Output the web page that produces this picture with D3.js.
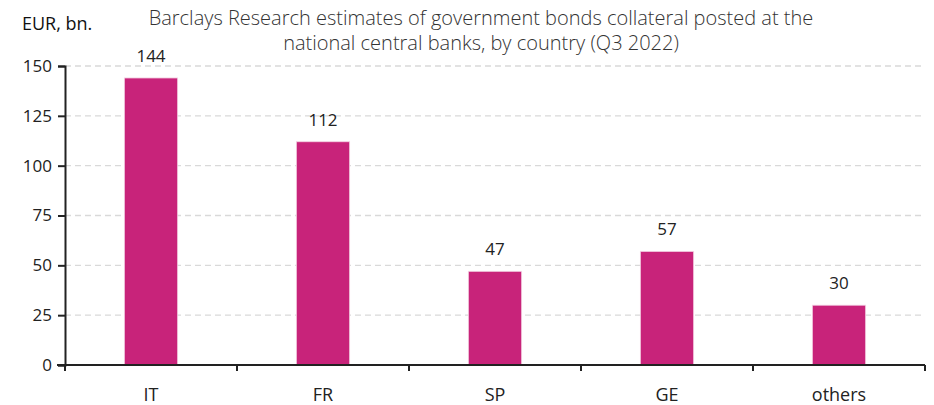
<!DOCTYPE html>
<html>
<head>
<meta charset="utf-8">
<script src="https://cdn.jsdelivr.net/npm/d3@7"></script>
<style>
  html, body { margin: 0; padding: 0; background: #fff; }
  svg { display: block; font-family: "Open Sans", "Noto Sans", sans-serif; }
</style>
</head>
<body>
<svg id="chart" width="934" height="405"></svg>
<script>
// Government bond collateral posted at national central banks, Q3 2022 (EUR bn)
const countries = ["IT", "FR", "SP", "GE", "others"];
const collateral = [144, 112, 47, 57, 30];
const yTicks = [0, 25, 50, 75, 100, 125, 150];
const titleLines = [
  "Barclays Research estimates of government bonds collateral posted at the",
  "national central banks, by country (Q3 2022)"
];
const unitLabel = "EUR, bn.";

const svg = d3.select("#chart");
const margin = { left: 65, right: 9, top: 66, bottom: 40 };
const W = 934, H = 405;
const innerW = W - margin.left - margin.right;
const innerH = H - margin.top - margin.bottom;

const x = d3.scaleBand().domain(countries).range([0, innerW]).paddingInner(0.69).paddingOuter(0.345);
const y = d3.scaleLinear().domain([0, 150]).range([innerH, 0]);

const g = svg.append("g").attr("transform", `translate(${margin.left},${margin.top})`);

// dashed horizontal gridlines
g.append("g")
  .selectAll("line")
  .data(yTicks.filter(d => d > 0))
  .join("line")
  .attr("x1", 0).attr("x2", innerW)
  .attr("y1", d => y(d)).attr("y2", d => y(d))
  .attr("stroke", "#d9d9d9")
  .attr("stroke-width", 1.3)
  .attr("stroke-dasharray", "6,4");

// bars
g.append("g")
  .selectAll("rect")
  .data(countries)
  .join("rect")
  .attr("x", d => x(d))
  .attr("width", x.bandwidth())
  .attr("y", (d, i) => y(collateral[i]))
  .attr("height", (d, i) => y(0) - y(collateral[i]))
  .attr("fill", "#c8237a")
  .attr("stroke", "#f3d4e4")
  .attr("stroke-width", 0.8);

// value labels
g.append("g")
  .selectAll("text")
  .data(countries)
  .join("text")
  .attr("x", d => x(d) + x.bandwidth() / 2)
  .attr("y", (d, i) => y(collateral[i]) - 16)
  .attr("text-anchor", "middle")
  .attr("font-size", 17)
  .attr("fill", "#222")
  .text((d, i) => collateral[i]);

// y axis
const yAxis = g.append("g")
  .call(d3.axisLeft(y).tickValues(yTicks).tickSize(7).tickPadding(6));
yAxis.select(".domain").attr("stroke", "#222").attr("stroke-width", 2);
yAxis.selectAll(".tick line").attr("stroke", "#222").attr("stroke-width", 2);
yAxis.selectAll(".tick text").attr("font-size", 17).attr("fill", "#222")
  .attr("font-family", "'Open Sans', 'Noto Sans', sans-serif");

// x axis with ticks at category boundaries
const xAxisG = g.append("g").attr("transform", `translate(0,${innerH})`);
xAxisG.append("line")
  .attr("x1", -8).attr("x2", innerW)
  .attr("stroke", "#222").attr("stroke-width", 2);
const step = x.step();
xAxisG.selectAll("line.sep")
  .data(d3.range(countries.length + 1))
  .join("line")
  .attr("class", "sep")
  .attr("x1", i => i * step).attr("x2", i => i * step)
  .attr("y1", 0).attr("y2", 6)
  .attr("stroke", "#222").attr("stroke-width", 2);
xAxisG.selectAll("text")
  .data(countries)
  .join("text")
  .attr("x", d => x(d) + x.bandwidth() / 2)
  .attr("y", 36)
  .attr("text-anchor", "middle")
  .attr("font-size", 18)
  .attr("fill", "#222")
  .text(d => d);

// unit label
svg.append("text")
  .attr("x", 22).attr("y", 30)
  .attr("font-size", 18)
  .attr("fill", "#111")
  .text(unitLabel);

// title
svg.append("g")
  .selectAll("text")
  .data(titleLines)
  .join("text")
  .attr("x", 481)
  .attr("y", (d, i) => 25 + i * 25)
  .attr("text-anchor", "middle")
  .attr("font-size", 20)
  .attr("font-weight", 300)
  .attr("fill", "#333")
  .text(d => d);
</script>
</body>
</html>
